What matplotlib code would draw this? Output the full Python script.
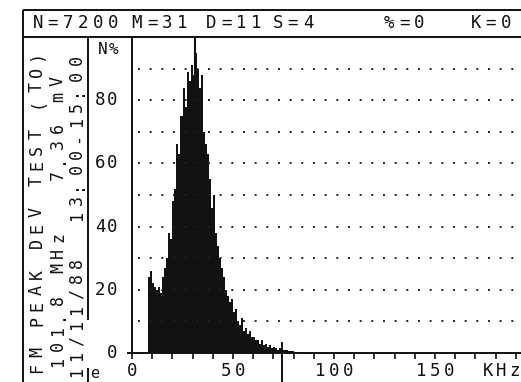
import matplotlib
matplotlib.use("Agg")
import matplotlib.pyplot as plt
import numpy as np

W, H = 521, 382
DPI = 100
FONT = "DejaVu Sans Mono"
INK = "#111111"

# peak deviation histogram, 1 kHz bins from bin_start (N% per bin)
bin_start = 8
n_pct = [24, 26, 22, 21, 20, 21, 19, 24, 27, 30,
         38, 36, 48, 52, 66, 63, 75, 84, 78, 89,
         86, 91, 88, 95, 90, 84, 88, 70, 66, 63,
         55, 46, 50, 38, 34, 30, 27, 24, 20, 18,
         16, 17, 13, 14, 10, 9, 11, 7, 8, 6,
         7, 5, 5, 4, 4, 3, 4, 2.5, 3, 2,
         2.5, 1.5, 2, 1.5, 1, 1.5, 1, 0.8, 1, 0.6,
         0.5, 0.6, 0.4, 0.3, 0.3, 0.2, 0.2, 0.1]

x_ticks = [0, 50, 100, 150]
y_ticks = [0, 20, 40, 60, 80]
grid_levels = [10, 20, 30, 40, 50, 60, 70, 80, 90]
mean_khz = 31      # M
upper_khz = 74.5   # marker under the axis
x_unit = "KHz"

header_fields = [("N=7200", 32), ("M=31", 131), ("D=11", 205),
                 ("S=4", 272), ("%=0", 383), ("K=0", 470)]
side_lines = ["FM PEAK DEV TEST (TO)",
              "101.8 MHz   7.36 mV",
              "11/11/88  13:00-15:00"]

fig = plt.figure(figsize=(W / DPI, H / DPI), dpi=DPI)

# full-figure layer in pixel units (y down) for the frame and the lettering
bg = fig.add_axes([0, 0, 1, 1])
bg.set_xlim(0, W)
bg.set_ylim(H, 0)
bg.axis("off")


def spaced(x, y, s, pitch, rot=0, size=11.5):
    # terminal style lettering: one glyph per fixed cell
    for i, ch in enumerate(s):
        if ch == " ":
            continue
        cx, cy = (x + i * pitch, y) if rot == 0 else (x, y - i * pitch)
        bg.text(cx, cy, ch, rotation=rot, ha="center", va="center",
                fontsize=size, family=FONT, color=INK)


def frame(xs, ys, lw=1.4):
    bg.plot(xs, ys, color=INK, lw=lw, solid_capstyle="butt")


# outer frame, header box and the side panel divider
frame([23, 23], [10, H])
frame([23, W], [10, 10])
frame([23, W], [37, 37])
frame([88, 88], [37, 320])
frame([88, 88], [368, H])

for text, left in header_fields:
    spaced(left + 6, 23, text, 15, size=12.5)

side_x = [37, 58, 77]
side_y0 = [368, 362, 372]
for s, x, y0 in zip(side_lines, side_x, side_y0):
    spaced(x, y0, s, 15.6, rot=90, size=12)

# histogram axes
left, right, top, base = 132, W, 37, 353
px_per_khz = 2.02
ax = fig.add_axes([left / W, 1 - base / H, (right - left) / W, (base - top) / H])
ax.set_facecolor("none")
ax.set_xlim(0, (right - left) / px_per_khz)
ax.set_ylim(0, 100)

ax.hlines(grid_levels, 3, 200, colors="#222222", linestyles=(0, (1, 5)), lw=1.4)
edges = bin_start + np.arange(len(n_pct))
ax.bar(edges, n_pct, width=1.0, align="edge", color=INK, lw=0)
ax.axvline(mean_khz, color=INK, lw=1.5)
ax.plot([upper_khz, upper_khz], [3.2, -9.5], color=INK, lw=1.4, clip_on=False)

for side in ("top", "right"):
    ax.spines[side].set_visible(False)
for side in ("left", "bottom"):
    ax.spines[side].set_linewidth(1.4)
    ax.spines[side].set_color(INK)
ax.set_xticks(np.arange(0, 200, 10))
ax.set_yticks([])
ax.tick_params(axis="x", direction="out", length=4, width=1.2, color=INK,
               labelbottom=False)
frame([127, 132], [base, base])

# tick labels, placed from the axis scale
to_px = ax.transData.transform
for v in x_ticks:
    xp = to_px((v, 0))[0]
    s = str(v)
    spaced(xp - (len(s) - 1) * 14 / 2, 371, s, 14, size=12.5)
unit_x = to_px((183, 0))[0]
spaced(unit_x - 14, 371, x_unit, 13.5, size=12.5)
for v in y_ticks:
    yp = H - to_px((0, v))[1]
    s = str(v)
    spaced(117 - 5 - (len(s) - 1) * 12, yp, s, 12, size=12.5)
spaced(103, 50, "N%", 11, size=11.5)
spaced(95, 374, "e", 10, size=11)

fig.savefig("out.png", dpi=DPI)
